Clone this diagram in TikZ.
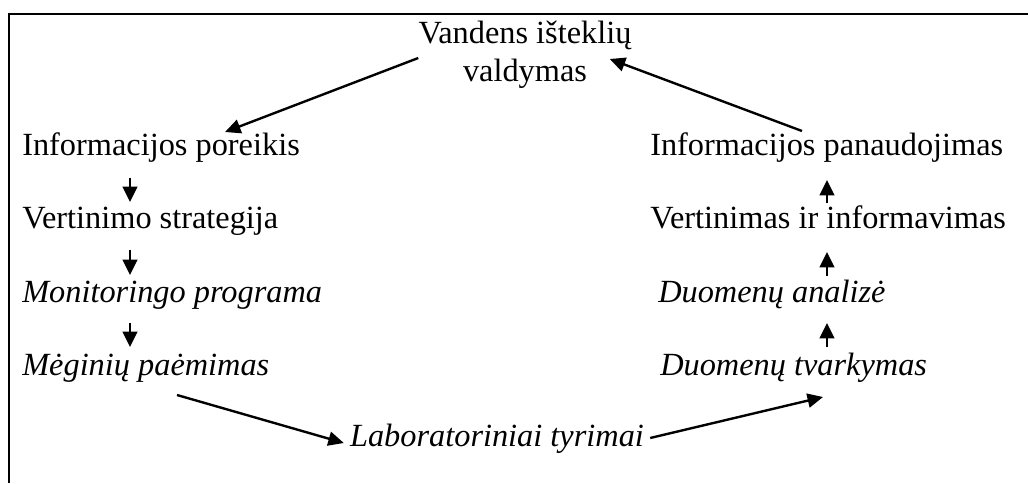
\documentclass[tikz,border=0pt]{standalone}
\usepackage{fontspec}
\setmainfont{Liberation Serif}
\usetikzlibrary{arrows.meta,calc}

\begin{document}
\begin{tikzpicture}[x=0.025cm,y=0.025cm,
		box/.style={inner sep=0pt, font=\fontsize{23}{27}\selectfont},
		lbox/.style={box, anchor=base west},
		ibox/.style={lbox, font=\fontsize{23}{27}\selectfont\itshape},
		arr/.style={line width=1.7pt, -{Triangle[length=11pt,width=10pt]}},
		sarr/.style={line width=1.4pt, -{Triangle[length=11pt,width=10.5pt]}}]
		\useasboundingbox (0,0) rectangle (1028,483);
		\draw[line width=2pt] (1028,469) -- (9,469) -- (9,0);

		\node[box, align=center, anchor=north] (valdymas) at (525,462) {Vandens išteklių\\valdymas};

		\node[lbox] (poreikis) at (22,328) {Informacijos poreikis};
		\node[lbox] (strategija) at (22,255) {Vertinimo strategija};
		\node[ibox] (programa) at (22,181) {Monitoringo programa};
		\node[ibox] (paemimas) at (22,108) {Mėginių paėmimas};

		\node[lbox] (panaudojimas) at (650,328) {Informacijos panaudojimas};
		\node[lbox] (vertinimas) at (650,255) {Vertinimas ir informavimas};
		\node[ibox] (analize) at (658,181) {Duomenų analizė};
		\node[ibox] (tvarkymas) at (660,108) {Duomenų tvarkymas};

		\node[box, font=\fontsize{23}{27}\selectfont\itshape, anchor=base] (lab) at (497,37) {Laboratoriniai tyrimai};

		% left column, down
		\draw[sarr] ($(poreikis.base west)+(108,-23)$) -- ($(strategija.base west)+(108,26)$);
		\draw[sarr] ($(strategija.base west)+(108,-22)$) -- ($(programa.base west)+(108,27)$);
		\draw[sarr] ($(programa.base west)+(108,-21)$) -- ($(paemimas.base west)+(108,28)$);

		% right column, up
		\draw[sarr] ($(vertinimas.base west)+(177,25)$) -- ($(panaudojimas.base west)+(177,-25)$);
		\draw[sarr] ($(analize.base west)+(169,26)$) -- ($(vertinimas.base west)+(177,-24)$);
		\draw[sarr] ($(tvarkymas.base west)+(167,28)$) -- ($(analize.base west)+(169,-21)$);

		\draw[arr] ($(valdymas.west)+(0,-3)$) -- ($(poreikis.base west)+(203,23)$);
		\draw[arr] ($(panaudojimas.base west)+(152,24)$) -- ($(valdymas.east)+(-22,-4)$);
		\draw[arr] ($(paemimas.base west)+(155,-20)$) -- ($(lab.base west)+(-6,3)$);
		\draw[arr] ($(lab.base east)+(6,8)$) -- ($(tvarkymas.base west)+(163,-22)$);
\end{tikzpicture}
\end{document}
